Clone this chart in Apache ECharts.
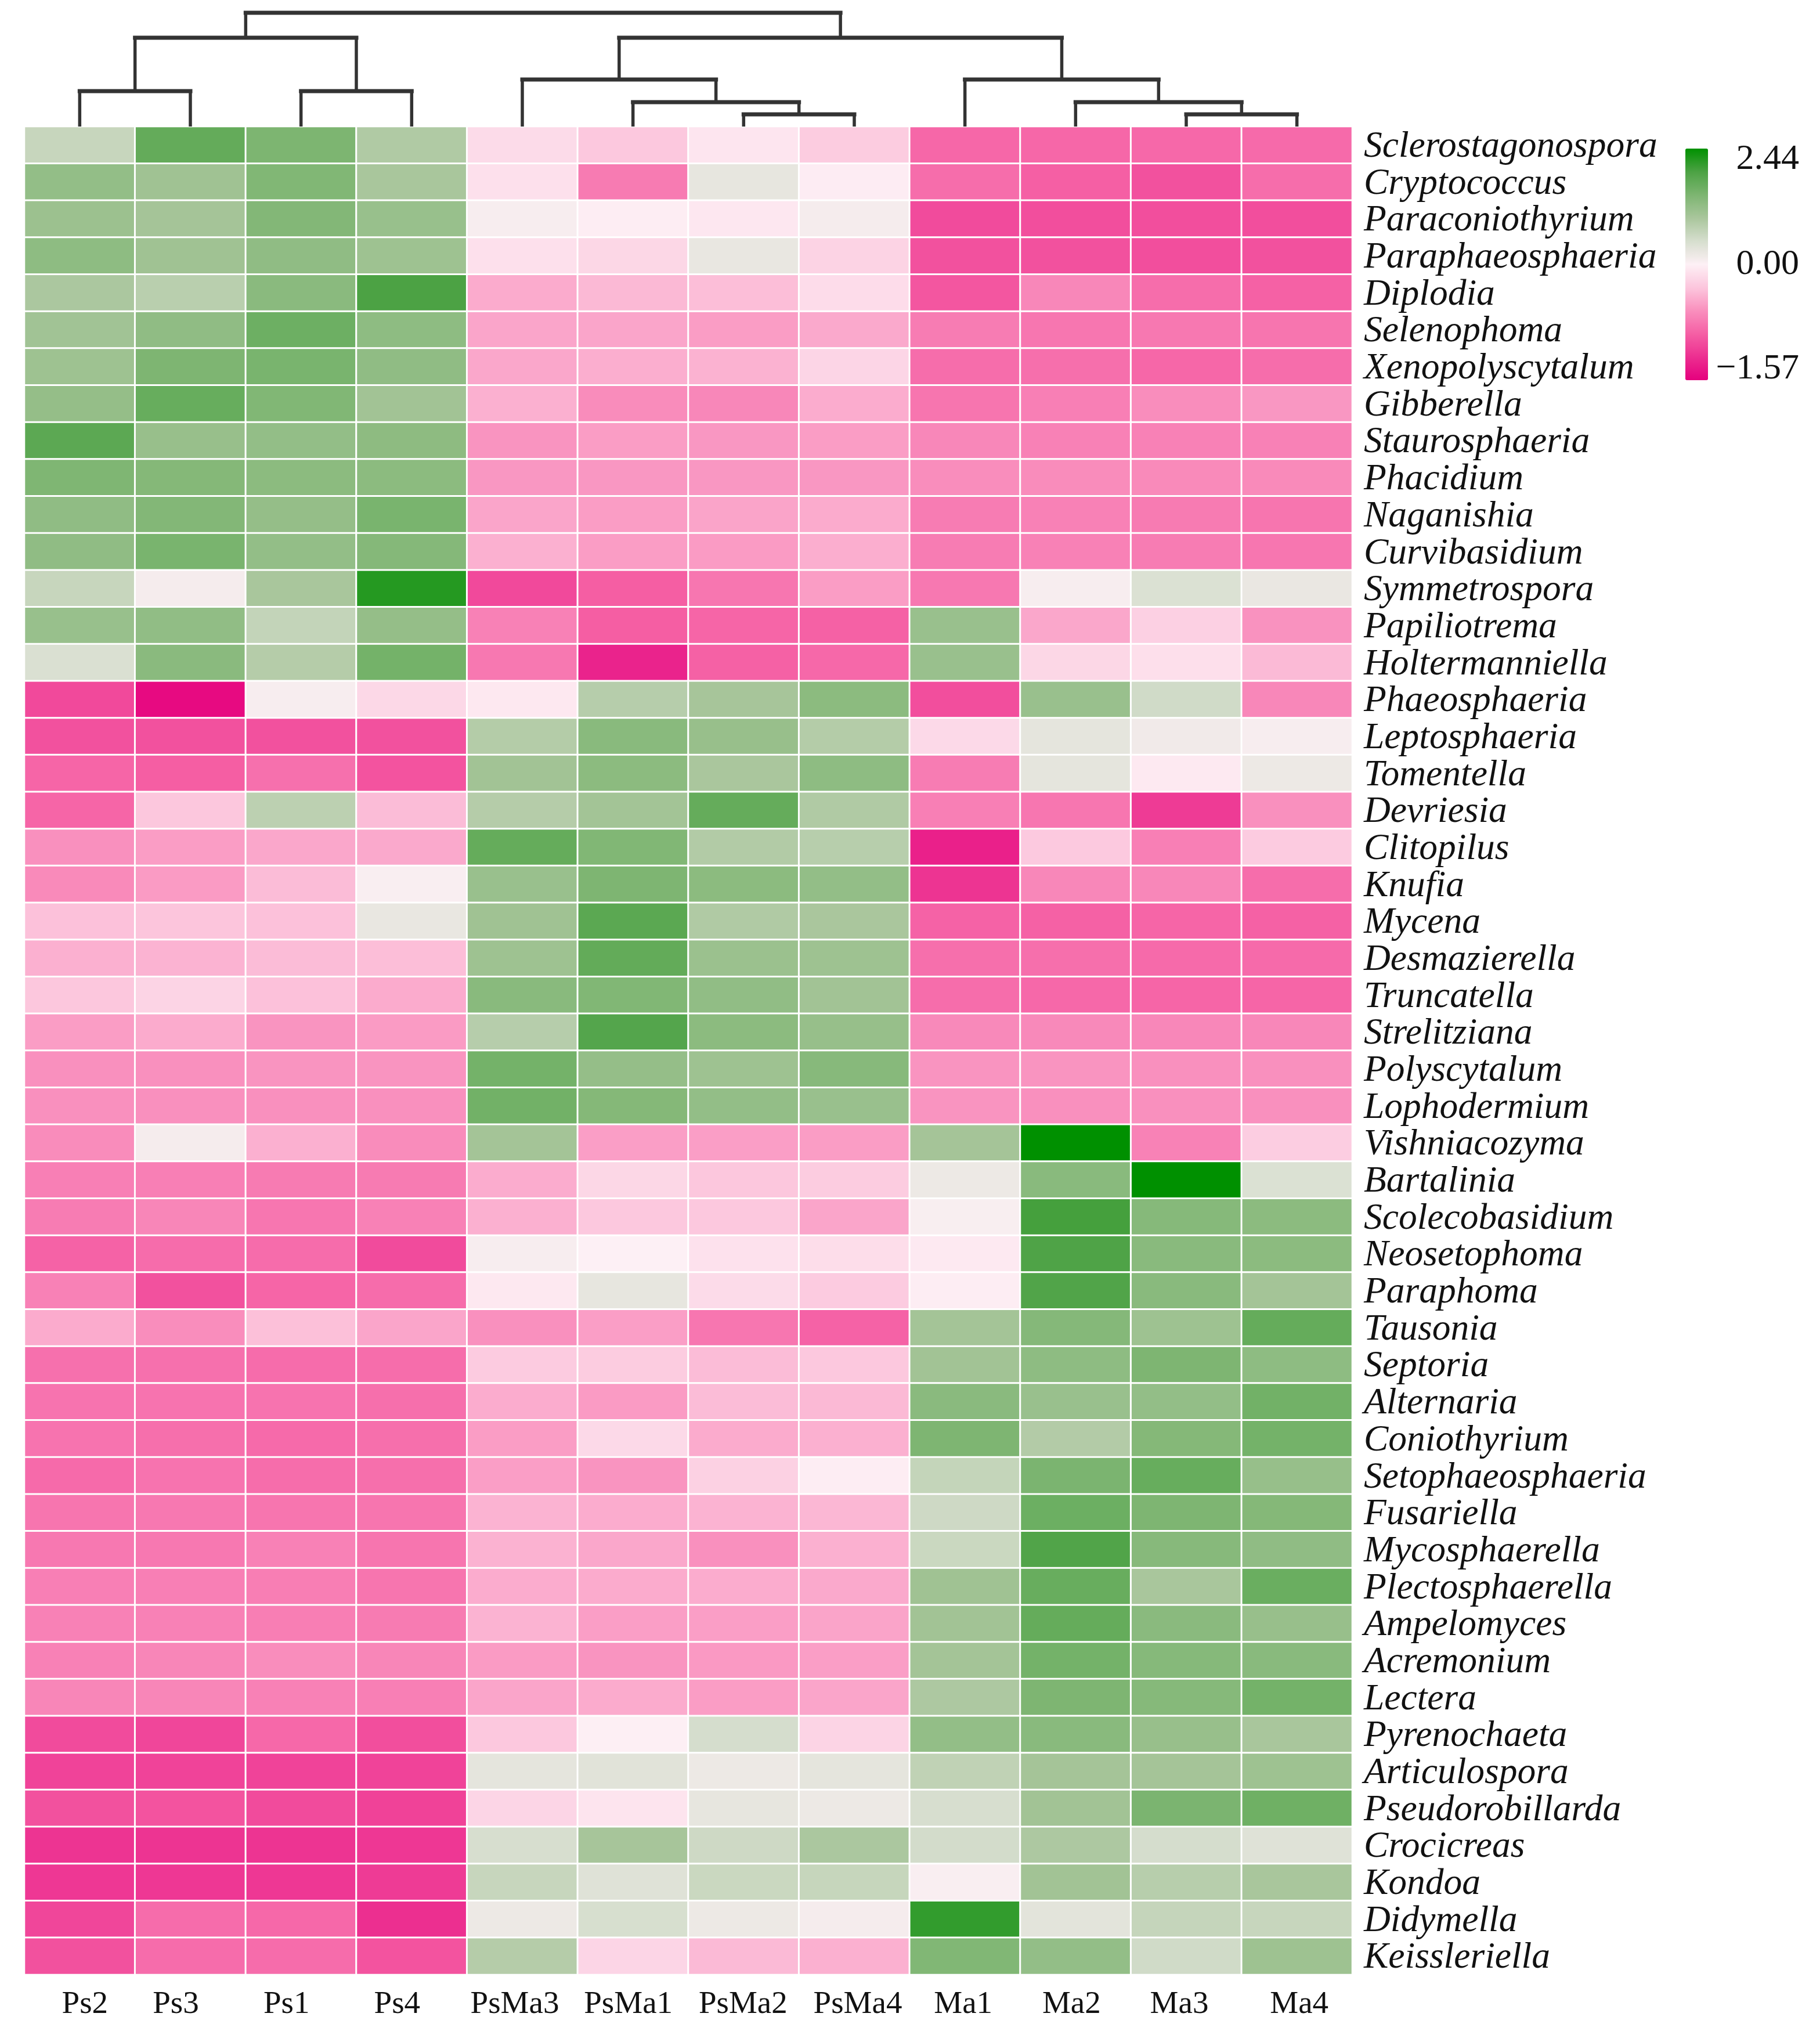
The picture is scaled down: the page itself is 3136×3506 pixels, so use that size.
<!DOCTYPE html>
<html><head><meta charset="utf-8">
<style>html,body{margin:0;padding:0;background:#fff}#c{width:3136px;height:3506px}</style>
<script src="https://cdn.jsdelivr.net/npm/echarts@6/dist/echarts.min.js"></script>
</head><body><div id="c"></div>
<script>
const samples = ['Ps2','Ps3','Ps1','Ps4','PsMa3','PsMa1','PsMa2','PsMa4','Ma1','Ma2','Ma3','Ma4'];
const sampleLabelShift = [9,-25,-25,-25,-13,-8,-1,6,-3,-7,-12,4];
const taxa = ['Sclerostagonospora','Cryptococcus','Paraconiothyrium','Paraphaeosphaeria','Diplodia','Selenophoma','Xenopolyscytalum','Gibberella','Staurosphaeria','Phacidium','Naganishia','Curvibasidium','Symmetrospora','Papiliotrema','Holtermanniella','Phaeosphaeria','Leptosphaeria','Tomentella','Devriesia','Clitopilus','Knufia','Mycena','Desmazierella','Truncatella','Strelitziana','Polyscytalum','Lophodermium','Vishniacozyma','Bartalinia','Scolecobasidium','Neosetophoma','Paraphoma','Tausonia','Septoria','Alternaria','Coniothyrium','Setophaeosphaeria','Fusariella','Mycosphaerella','Plectosphaerella','Ampelomyces','Acremonium','Lectera','Pyrenochaeta','Articulospora','Pseudorobillarda','Crocicreas','Kondoa','Didymella','Keissleriella'];
const cellValues = [
[.65,1.71,1.46,.9,-.16,-.30,-.08,-.27,-.89,-.89,-.88,-.87],
[1.22,1.08,1.42,.98,-.12,-.76,.27,-.03,-.85,-.94,-1.03,-.85],
[1.12,1.02,1.40,1.16,.08,-.02,-.07,.10,-1.07,-1.05,-1.05,-1.05],
[1.27,1.08,1.25,1.1,-.12,-.19,.25,-.22,-1.03,-1.03,-1.05,-1.03],
[.95,.8,1.32,1.95,-.47,-.39,-.36,-.15,-1.0,-.68,-.85,-.93],
[1.06,1.25,1.62,1.27,-.50,-.50,-.55,-.48,-.75,-.79,-.78,-.8],
[1.1,1.45,1.5,1.25,-.49,-.45,-.43,-.2,-.85,-.84,-.89,-.85],
[1.2,1.68,1.42,1.05,-.44,-.65,-.68,-.46,-.8,-.73,-.64,-.58],
[1.79,1.17,1.22,1.28,-.6,-.55,-.58,-.55,-.68,-.72,-.72,-.72],
[1.44,1.38,1.3,1.3,-.58,-.58,-.58,-.58,-.64,-.65,-.66,-.66],
[1.25,1.4,1.2,1.5,-.5,-.55,-.51,-.47,-.75,-.72,-.76,-.8],
[1.25,1.5,1.22,1.37,-.44,-.55,-.56,-.45,-.75,-.72,-.75,-.79],
[.65,.1,.98,2.2,-1.08,-.95,-.79,-.55,-.78,.08,.42,.24],
[1.16,1.24,.69,1.2,-.72,-.95,-.9,-.93,1.15,-.49,-.24,-.61],
[.44,1.32,.85,1.55,-.78,-1.33,-.93,-.88,1.15,-.19,-.13,-.38],
[-1.08,-1.5,.07,-.18,-.06,.83,1.0,1.3,-1.05,1.15,.55,-.68],
[-1.03,-1.03,-1.03,-1.03,.86,1.33,1.17,.86,-.17,.3,.15,.07],
[-.9,-.95,-.83,-1.02,1.05,1.3,.97,1.27,-.75,.3,-.05,.2],
[-.9,-.31,.77,-.37,.85,1.04,1.7,.9,-.73,-.79,-1.17,-.62],
[-.62,-.55,-.49,-.48,1.7,1.42,.88,.82,-1.35,-.29,-.73,-.28],
[-.66,-.56,-.37,.05,1.15,1.45,1.3,1.22,-1.22,-.68,-.68,-.85],
[-.34,-.32,-.34,.25,1.08,1.8,.9,.97,-.92,-.93,-.9,-.93],
[-.44,-.42,-.37,-.36,1.1,1.72,1.13,1.1,-.84,-.84,-.87,-.87],
[-.31,-.21,-.34,-.47,1.33,1.42,1.24,1.05,-.85,-.88,-.9,-.9],
[-.55,-.47,-.6,-.56,.83,1.87,1.3,1.18,-.67,-.67,-.68,-.68],
[-.62,-.62,-.6,-.6,1.55,1.2,1.1,1.35,-.6,-.6,-.62,-.62],
[-.62,-.62,-.62,-.62,1.57,1.38,1.22,1.15,-.6,-.62,-.62,-.62],
[-.65,.1,-.44,-.65,1.03,-.54,-.54,-.55,1.02,2.44,-.71,-.26],
[-.73,-.73,-.76,-.76,-.46,-.19,-.31,-.27,.2,1.33,2.44,.42],
[-.75,-.69,-.79,-.72,-.44,-.3,-.3,-.5,.06,2.0,1.36,1.3],
[-.92,-.86,-.86,-1.07,.08,0,-.11,-.14,-.05,1.92,1.33,1.3],
[-.72,-1.03,-.9,-.86,-.06,.27,-.16,-.28,-.02,1.9,1.33,1.03],
[-.47,-.64,-.35,-.5,-.62,-.54,-.79,-.92,1.03,1.37,1.1,1.7],
[-.83,-.83,-.86,-.85,-.28,-.27,-.37,-.3,1.05,1.27,1.45,1.27],
[-.81,-.81,-.81,-.84,-.46,-.56,-.37,-.39,1.32,1.15,1.22,1.57],
[-.81,-.84,-.87,-.84,-.55,-.17,-.47,-.44,1.45,.87,1.38,1.55],
[-.87,-.81,-.85,-.84,-.54,-.6,-.23,-.02,.68,1.48,1.68,1.18],
[-.8,-.78,-.8,-.8,-.42,-.46,-.42,-.4,.58,1.63,1.45,1.38],
[-.78,-.78,-.72,-.8,-.43,-.49,-.62,-.44,.62,1.9,1.35,1.25],
[-.73,-.73,-.74,-.8,-.46,-.47,-.46,-.48,1.08,1.67,.98,1.65],
[-.72,-.72,-.74,-.76,-.42,-.54,-.54,-.51,1.05,1.7,1.32,1.17],
[-.72,-.69,-.64,-.69,-.56,-.6,-.57,-.54,1.03,1.55,1.36,1.33],
[-.69,-.69,-.72,-.73,-.5,-.47,-.55,-.5,.93,1.45,1.36,1.55],
[-1.07,-1.1,-.88,-1.05,-.3,-.01,.5,-.21,1.22,1.33,1.17,.98],
[-1.12,-1.12,-1.12,-1.12,.3,.35,.2,.3,.73,1.02,1.02,1.1],
[-1.03,-1.02,-1.07,-1.13,-.2,-.09,.28,.2,.48,1.05,1.48,1.6],
[-1.22,-1.22,-1.22,-1.2,.48,1.0,.58,.95,.52,.93,.5,.38],
[-1.2,-1.2,-1.2,-1.17,.65,.38,.62,.66,.05,1.05,.82,.98],
[-1.1,-.86,-.88,-1.25,.2,.47,.2,.1,2.12,.33,.67,.65],
[-1.03,-.86,-.86,-1.02,.85,-.2,-.38,-.44,1.42,1.22,.55,1.1]
];
const legendMax = 2.44, legendMid = 0, legendMin = -1.57;
const legendLabels = ['2.44','0.00','\u22121.57'];
const colorStops = ['#e5007d','#ec2e90','#f55fa4','#f98fbd','#fcc6dd','#fdf0f5','#d6dece','#a9c69c','#7db571','#4ca244','#009000'];
// Column tree: each merge joins two nodes (leaf index, or 12+ earlier merge index) at a height
const treeMerges = [
 [0,1,61],[2,3,61],[12,13,153],
 [6,7,21],[5,15,42],[4,16,81],
 [10,11,21],[9,18,42],[8,19,81],
 [17,20,153],[14,21,196]
];

const G = {l:42, t:218, w:2288, h:3184};
const FONT = '"Liberation Serif","Times New Roman",serif';
const norm = v => v < 0 ? v / -legendMin : v / legendMax;

const heatData = [];
cellValues.forEach((row, r) => row.forEach((v, c) => heatData.push([c, r, v, norm(v)])));

const nodeX = samples.map((_, i) => i + 0.5), nodeH = samples.map(() => 0);
const treeSeries = [];
treeMerges.forEach(([a, b, h]) => {
  const base = {type:'line', xAxisIndex:1, yAxisIndex:1, showSymbol:false, symbol:'none', silent:true, clip:false, z:3};
  treeSeries.push({...base, data:[[nodeX[a], nodeH[a]], [nodeX[a], h]], lineStyle:{color:'#333333', width:5.5}});
  treeSeries.push({...base, data:[[nodeX[b], nodeH[b]], [nodeX[b], h]], lineStyle:{color:'#333333', width:5.5}});
  treeSeries.push({...base, data:[[nodeX[a], h], [nodeX[b], h]], lineStyle:{color:'#333333', width:7, cap:'square'}});
  nodeX.push((nodeX[a] + nodeX[b]) / 2); nodeH.push(h);
});

const richShift = {};
sampleLabelShift.forEach((s, i) => {
  richShift['s' + i] = {fontFamily:FONT, fontSize:55, color:'#111',
    padding:[0, s < 0 ? -2 * s : 0, 0, s > 0 ? 2 * s : 0]};
});

const legendY = [276, 457, 637];
const chart = echarts.init(document.getElementById('c'), null, {renderer:'canvas'});
chart.setOption({
  animation:false,
  backgroundColor:'#ffffff',
  grid:[
    {left:G.l, top:G.t, width:G.w, height:G.h, containLabel:false},
    {left:G.l, top:0, width:G.w, height:G.t, containLabel:false}
  ],
  xAxis:[
    {type:'category', gridIndex:0, data:samples, position:'bottom',
     axisLine:{show:false}, axisTick:{show:false}, splitLine:{show:false},
     axisLabel:{interval:0, margin:24, formatter:(v, i) => `{s${i}|${v}}`, rich:richShift, fontFamily:FONT, fontSize:55}},
    {type:'value', gridIndex:1, min:0, max:12, show:false}
  ],
  yAxis:[
    {type:'category', gridIndex:0, data:taxa, inverse:true, position:'right',
     axisLine:{show:false}, axisTick:{show:false}, splitLine:{show:false},
     axisLabel:{interval:0, margin:20, formatter:v => `{t|${v}}`, fontFamily:FONT, fontStyle:'italic', fontSize:63.5,
       rich:{t:{fontFamily:FONT, fontStyle:'italic', fontSize:63.5, color:'#111', padding:[7,0,0,0]}}}},
    {type:'value', gridIndex:1, min:0, max:G.t, show:false}
  ],
  visualMap:{
    type:'continuous', dimension:3, seriesIndex:0, min:-1, max:1,
    left:2904, top:256, itemWidth:39, itemHeight:399, padding:0, calculable:false, hoverLink:false,
    orient:'vertical', text:null, showLabel:false, inRange:{color:colorStops}
  },
  graphic:legendLabels.map((t, i) => ({
    type:'text', right:3136 - 3100, top:legendY[i] - 32,
    style:{text:t, fontFamily:FONT, fontSize:62, fill:'#111', textAlign:'right'}
  })),
  series:[
    {type:'heatmap', xAxisIndex:0, yAxisIndex:0, data:heatData, encode:{x:0, y:1, value:2},
     itemStyle:{borderColor:'#ffffff', borderWidth:3}, progressive:0, silent:true},
    ...treeSeries
  ]
});
</script></body></html>
